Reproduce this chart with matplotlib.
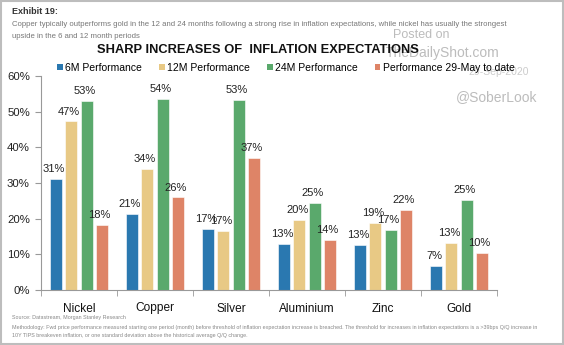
import matplotlib.pyplot as plt
import numpy as np
from matplotlib.patches import Patch, Rectangle

plt.rcParams['font.family'] = ['Liberation Sans', 'DejaVu Sans']

# data
metals = ['Nickel', 'Copper', 'Silver', 'Aluminium', 'Zinc', 'Gold']
series_names = ['6M Performance', '12M Performance', '24M Performance', 'Performance 29-May to date']
perf_6m = [31.2, 21.3, 17.1, 12.9, 12.6, 6.8]
perf_12m = [47.3, 34.0, 16.6, 19.7, 18.9, 13.2]
perf_24m = [53.0, 53.6, 53.4, 24.5, 16.9, 25.3]
perf_may = [18.2, 26.0, 37.0, 14.0, 22.4, 10.4]
labels_6m = ['31%', '21%', '17%', '13%', '13%', '7%']
labels_12m = ['47%', '34%', '17%', '20%', '19%', '13%']
labels_24m = ['53%', '54%', '53%', '25%', '17%', '25%']
labels_may = ['18%', '26%', '37%', '14%', '22%', '10%']
colors = ['#2a78b0', '#e8c985', '#5aa96c', '#de8467']

W, H = 564, 345
fig = plt.figure(figsize=(W / 100, H / 100), dpi=100)

# outer frame
fig.patches.append(Rectangle((0.002, 0.003), 0.996, 0.994, transform=fig.transFigure,
                             fill=False, edgecolor='#bdbdbd', linewidth=1.5))

# header texts
fig.text(12 / W, 1 - 11 / H, 'Exhibit 19:', fontsize=6.5, fontweight='bold', va='center', color='#333333')
fig.text(12 / W, 1 - 24 / H, 'Copper typically outperforms gold in the 12 and 24 months following a strong rise in inflation expectations, while nickel has usually the strongest',
         fontsize=5.6, va='center', color='#777777')
fig.text(12 / W, 1 - 37 / H, 'upside in the 6 and 12 month periods', fontsize=5.6, va='center', color='#777777')

# watermark
fig.text(421 / W, 1 - 35 / H, 'Posted on', fontsize=9, color='#bcbcbc', ha='center', va='center')
fig.text(443 / W, 1 - 53 / H, 'TheDailyShot.com', fontsize=10, color='#bcbcbc', ha='center', va='center')
fig.text(499 / W, 1 - 72 / H, '29-Sep-2020', fontsize=7.5, color='#cccccc', ha='center', va='center')
fig.text(497 / W, 1 - 97 / H, '@SoberLook', fontsize=10, color='#bcbcbc', ha='center', va='center')

fig.text(258 / W, 1 - 50 / H, 'SHARP INCREASES OF  INFLATION EXPECTATIONS', fontsize=9.3, fontweight='bold',
         ha='center', va='center', color='#111111')

ax = fig.add_axes([41 / W, 55 / H, 456 / W, 214 / H])
ax.patch.set_alpha(0)

x = np.arange(len(metals))
offsets = [-0.3, -0.1, 0.1, 0.3]
width = 0.16
all_vals = [perf_6m, perf_12m, perf_24m, perf_may]
all_labels = [labels_6m, labels_12m, labels_24m, labels_may]
for vals, labs, off, c in zip(all_vals, all_labels, offsets, colors):
    ax.bar(x + off, vals, width=width, color=c, edgecolor='white', linewidth=0.4, zorder=2)
    for xi, v, lab in zip(x, vals, labs):
        ax.text(xi + off - 0.03, v + 1.3, lab, ha='center', va='bottom', fontsize=8, color='#222222')

ax.set_xlim(-0.5, 5.5)
ax.set_ylim(0, 60)
ax.set_yticks(np.arange(0, 61, 10))
ax.set_yticklabels([f'{t}%' for t in range(0, 61, 10)], fontsize=8.2, color='#222222')
ax.set_xticks(x)
ax.set_xticklabels(metals, fontsize=8.6, color='#111111')
ax.set_xticks(np.arange(-0.5, 6, 1), minor=True)
ax.tick_params(axis='x', which='major', length=0, pad=9)
ax.tick_params(axis='x', which='minor', length=4, color='#999999')
ax.tick_params(axis='y', length=4, color='#999999', pad=4)
for s in ['top', 'right']:
    ax.spines[s].set_visible(False)
ax.spines['left'].set_color('#999999')
ax.spines['bottom'].set_color('#999999')

handles = [Patch(facecolor=c, edgecolor='none') for c in colors]
fig.legend(handles, series_names, loc='center', bbox_to_anchor=(286 / W, 1 - 68 / H), ncol=4,
           frameon=False, fontsize=7.5, handlelength=0.55, handleheight=0.55, handletextpad=0.25,
           columnspacing=1.6, borderpad=0)

# footer
foot = dict(fontsize=3.9, color='#888888', va='center')
fig.text(12 / W, 1 - 318 / H, 'Source: Datastream, Morgan Stanley Research', **foot)
fig.text(12 / W, 1 - 327 / H, 'Methodology: Fwd price performance measured starting one period (month) before threshold of inflation expectation increase is breached. The threshold for increases in inflation expectations is a >39bps Q/Q increase in',
         **foot)
fig.text(12 / W, 1 - 335 / H, '10Y TIPS breakeven inflation, or one standard deviation above the historical average Q/Q change.', **foot)

fig.savefig('out.png', dpi=100)
